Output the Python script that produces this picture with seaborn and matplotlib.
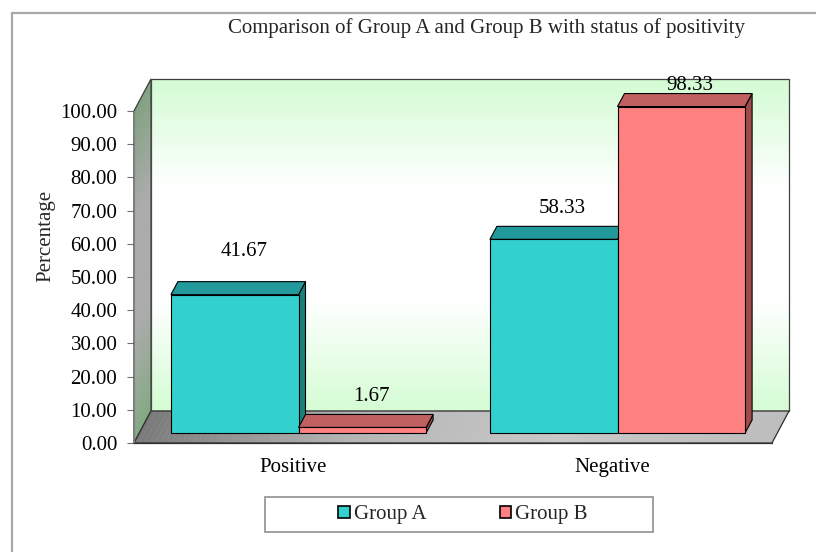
import numpy as np
import pandas as pd
import matplotlib
matplotlib.use("Agg")
import matplotlib.pyplot as plt
import seaborn as sns
from matplotlib.patches import Polygon, Rectangle
from matplotlib.collections import PolyCollection
from matplotlib.colors import LinearSegmentedColormap
from matplotlib.lines import Line2D

# ---------------- data ----------------
categories = ["Positive", "Negative"]
groups = ["Group A", "Group B"]
group_a = [41.67, 58.33]
group_b = [1.67, 98.33]
y_ticks = [0, 10, 20, 30, 40, 50, 60, 70, 80, 90, 100]
title = "Comparison of Group A and Group B with status of positivity"
y_label = "Percentage"

df = pd.DataFrame({
    "Status": categories * 2,
    "Group": [groups[0]] * 2 + [groups[1]] * 2,
    "Value": group_a + group_b,
})

# ---------------- style ----------------
sns.set_theme(style="white")
SERIF = ["Liberation Serif", "DejaVu Serif"]
plt.rcParams["font.family"] = SERIF
FS = 15

front_cols = {"Group A": "#33d1ce", "Group B": "#ff8080"}
top_cols = {"Group A": "#22999a", "Group B": "#c06060"}
side_cols = {"Group A": "#1b7f7d", "Group B": "#a04a4a"}

W, H = 816, 552
fig = plt.figure(figsize=(W / 100, H / 100), dpi=100)
fig.patch.set_facecolor("white")

# front plane of the 3D box (pixels, top-left origin)
L, R, T, B = 134, 772, 111, 443
ax = fig.add_axes([L / W, 1 - B / H, (R - L) / W, (B - T) / H])
XLIM = (-0.5, 1.5)
YLIM = (0, 100)
kx = (XLIM[1] - XLIM[0]) / (R - L)   # data units per pixel
ky = (YLIM[1] - YLIM[0]) / (B - T)

DX, DY = 17 * kx, 32 * ky          # depth of box
FX, FY = 5 * kx, 10 * ky           # bar front offset into depth
BX, BY = 7 * kx, 13 * ky           # bar depth

sns.barplot(data=df, x="Status", y="Value", hue="Group", order=categories,
            hue_order=groups, palette=front_cols, width=0.8, dodge=True,
            edgecolor="black", linewidth=0.8, saturation=1, ax=ax, legend=False,
            errorbar=None)

# ---- walls ----
def grad_cmap(name, cols):
    return LinearSegmentedColormap.from_list(name, cols)

N = 120
ts = np.linspace(0, 1, N + 1)

# back wall (vertical gradient, top -> bottom)
wall_cmap = grad_cmap("wall", ["#d3fbd3", "#ffffff", "#ffffff", "#d4fcd4"])
x0w, x1w = XLIM[0] + DX, XLIM[1] + DX
polys, cols = [], []
for a, b in zip(ts[:-1], ts[1:]):
    ya = YLIM[1] + DY - a * (YLIM[1] - YLIM[0])
    yb = YLIM[1] + DY - b * (YLIM[1] - YLIM[0])
    polys.append([(x0w, ya), (x1w, ya), (x1w, yb), (x0w, yb)])
    cols.append(wall_cmap((a + b) / 2))
ax.add_collection(PolyCollection(polys, facecolors=cols, edgecolors=cols, linewidths=0.3,
                                 zorder=0.5, clip_on=False))
ax.add_patch(Rectangle((x0w, YLIM[0] + DY), XLIM[1] - XLIM[0], YLIM[1] - YLIM[0],
                       fill=False, edgecolor="#404040", lw=0.9, zorder=0.6, clip_on=False))

# left wall (gradient along value direction)
left_cmap = grad_cmap("left", ["#7c9e7c", "#a9a9a9", "#a9a9a9", "#7fa67f"])
polys, cols = [], []
xl = XLIM[0]
for a, b in zip(ts[:-1], ts[1:]):
    va = YLIM[1] - a * (YLIM[1] - YLIM[0])
    vb = YLIM[1] - b * (YLIM[1] - YLIM[0])
    polys.append([(xl, va), (xl + DX, va + DY), (xl + DX, vb + DY), (xl, vb)])
    cols.append(left_cmap((a + b) / 2))
ax.add_collection(PolyCollection(polys, facecolors=cols, edgecolors=cols, linewidths=0.3,
                                 zorder=0.7, clip_on=False))
ax.add_patch(Polygon([(xl, 0), (xl, 100), (xl + DX, 100 + DY), (xl + DX, DY)],
                     closed=True, fill=False, edgecolor="#404040", lw=0.9, zorder=0.8,
                     clip_on=False))

# floor (gradient along x)
floor_cmap = grad_cmap("floor", ["#7a7a7a", "#b4b4b4", "#c8c8c8", "#bdbdbd"])
polys, cols = [], []
for a, b in zip(ts[:-1], ts[1:]):
    xa = XLIM[0] + a * (XLIM[1] - XLIM[0])
    xb = XLIM[0] + b * (XLIM[1] - XLIM[0])
    polys.append([(xa, 0), (xb, 0), (xb + DX, DY), (xa + DX, DY)])
    cols.append(floor_cmap((a + b) / 2))
ax.add_collection(PolyCollection(polys, facecolors=cols, edgecolors=cols, linewidths=0.3,
                                 zorder=1.0, clip_on=False))
ax.add_patch(Polygon([(XLIM[0], 0), (XLIM[1], 0), (XLIM[1] + DX, DY), (XLIM[0] + DX, DY)],
                     closed=True, fill=False, edgecolor="#303030", lw=0.9, zorder=1.1,
                     clip_on=False))

# ---- 3D bars ----
bars = []
for cont, g in zip(ax.containers, groups):
    for j, p in enumerate(cont.patches):
        bars.append((p, g, j))
bars.sort(key=lambda t: t[0].get_x())

label_lift_px = {(groups[0], 0): 43, (groups[1], 0): 31, (groups[0], 1): 31, (groups[1], 1): 21}

for i, (p, g, j) in enumerate(bars):
    z = 3 + i
    x0 = p.get_x() + FX
    w = p.get_width()
    h = p.get_height()
    y0 = FY
    y1 = h + FY
    x1 = x0 + w
    p.set_x(x0)
    p.set_y(y0)
    p.set_zorder(z + 0.2)
    p.set_clip_on(False)
    top = Polygon([(x0, y1), (x1, y1), (x1 + BX, y1 + BY), (x0 + BX, y1 + BY)], closed=True,
                  facecolor=top_cols[g], edgecolor="black", lw=0.8, zorder=z, clip_on=False)
    side = Polygon([(x1, y0), (x1, y1), (x1 + BX, y1 + BY), (x1 + BX, y0 + BY)], closed=True,
                   facecolor=side_cols[g], edgecolor="black", lw=0.8, zorder=z, clip_on=False)
    ax.add_patch(side)
    ax.add_patch(top)
    lift = label_lift_px.get((g, j), 31)
    ax.text(x0 + w / 2 + 9 * kx, y1 + lift * ky, f"{h:.2f}", ha="center", va="center",
            fontsize=FS, family=SERIF, color="black", zorder=20, clip_on=False)

# ---- axes ----
ax.set_xlim(*XLIM)
ax.set_ylim(*YLIM)
ax.set_yticks(y_ticks)
ax.set_yticklabels([f"{v:.2f}" for v in y_ticks], fontsize=FS, family=SERIF)
ax.set_xticks([0, 1])
ax.set_xticklabels(categories, fontsize=FS, family=SERIF)
ax.set_xticks([-0.5, 0.5, 1.5], minor=True)
ax.tick_params(axis="x", which="major", length=0, pad=11, colors="black")
ax.tick_params(axis="x", which="minor", length=5, width=0.8, color="#404040", direction="out")
ax.tick_params(axis="y", which="major", length=5, width=0.8, color="#707070", pad=7,
               direction="out", left=True, labelcolor="black")
ax.set_xlabel("")
ax.set_ylabel(y_label, fontsize=FS, family=SERIF)
ax.yaxis.set_label_coords((55 - L) / (R - L), (B - 236) / (B - T))
for s in ["top", "right"]:
    ax.spines[s].set_visible(False)
ax.spines["left"].set_color("#808080")
ax.spines["left"].set_linewidth(0.8)
ax.spines["bottom"].set_color("#303030")
ax.spines["bottom"].set_linewidth(0.9)
ax.spines["left"].set_zorder(1.2)
ax.spines["bottom"].set_zorder(1.2)
ax.patch.set_alpha(0)

# ---- title ----
fig.text(487 / W, 1 - 28 / H, title, ha="center", va="center", fontsize=FS, family=SERIF)

# ---- legend ----
handles = [Rectangle((0, 0), 1, 1, facecolor=front_cols[g], edgecolor="black", lw=1.2)
           for g in groups]
ax.legend(handles, groups, loc="center", bbox_to_anchor=(463 / W, 1 - 515 / H),
          bbox_transform=fig.transFigure, ncol=2, frameon=False,
          prop={"family": SERIF, "size": FS}, handlelength=0.55, handleheight=0.55,
          handletextpad=0.2, columnspacing=3.5)
fig.add_artist(Rectangle((265 / W, 1 - 532 / H), (653 - 265) / W, (532 - 497) / H,
                         transform=fig.transFigure, fill=False, edgecolor="#a0a0a0", lw=1.4))

# ---- outer frame ----
fig.add_artist(Line2D([12 / W, 12 / W], [0, 1 - 13 / H], transform=fig.transFigure,
                      color="#a8a8a8", lw=1.6))
fig.add_artist(Line2D([12 / W, 1], [1 - 13 / H, 1 - 13 / H], transform=fig.transFigure,
                      color="#a8a8a8", lw=1.6))

fig.savefig("out.png", dpi=100)
